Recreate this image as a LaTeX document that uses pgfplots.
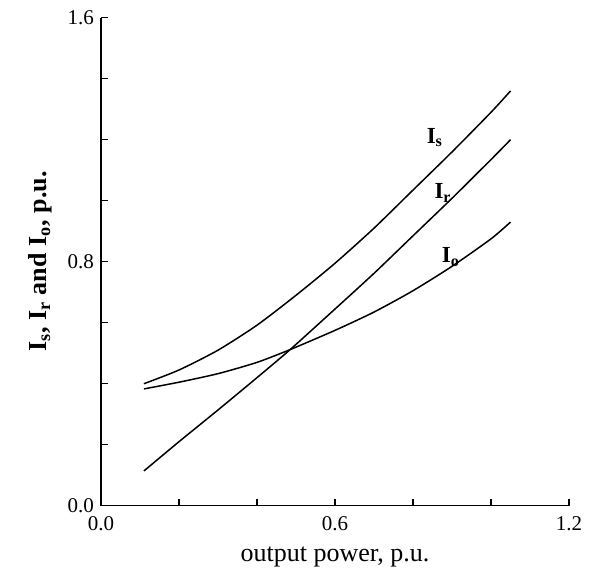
\documentclass[border=0pt]{standalone}
\usepackage{fontspec}
\setmainfont{Liberation Serif}
\usepackage{pgfplots}
\pgfplotsset{compat=1.18}

\begin{document}
\begin{tikzpicture}
\begin{axis}[
    scale only axis,
    width=234pt,
    height=244pt,
    xmin=0, xmax=1.2,
    ymin=0, ymax=1.6,
    axis lines=left,
    axis line style={-, line width=0.6pt},
    tick align=inside,
    major tick length=3.5pt,
    tick style={line width=0.6pt, black},
    xtick={0,0.2,0.4,0.6,0.8,1.0,1.2},
    xticklabels={0.0,,,0.6,,,1.2},
    ytick={0,0.2,0.4,0.6,0.8,1.0,1.2,1.4,1.6},
    yticklabels={0.0,,,,0.8,,,,1.6},
    ticklabel style={font=\fontsize{10.5}{12}\selectfont},
    xticklabel style={yshift=-2pt},
    xlabel={output power, p.u.},
    ylabel={\bfseries I\textsubscript{s}, I\textsubscript{r} and I\textsubscript{o}, p.u.},
    label style={font=\fontsize{13}{15}\selectfont},
    x label style={at={(axis description cs:0.5,-0.105)}, anchor=center},
    y label style={at={(axis description cs:-0.13,0.5)}, anchor=center},
    clip=false,
]

% I_s
\addplot[black, line width=0.75pt, smooth, tension=0.4] coordinates {
    (0.11,0.400) (0.2,0.445) (0.3,0.510) (0.4,0.592) (0.5,0.690)
    (0.6,0.795) (0.7,0.910) (0.8,1.035) (0.9,1.160) (1.0,1.290) (1.05,1.360)
};
% I_r
\addplot[black, line width=0.75pt, smooth, tension=0.4] coordinates {
    (0.11,0.114) (0.2,0.210) (0.3,0.314) (0.4,0.420) (0.485,0.512)
    (0.6,0.645) (0.7,0.762) (0.8,0.885) (0.9,1.008) (1.0,1.135) (1.05,1.200)
};
% I_o
\addplot[black, line width=0.75pt, smooth, tension=0.4] coordinates {
    (0.11,0.383) (0.2,0.405) (0.3,0.433) (0.4,0.470) (0.485,0.512)
    (0.6,0.575) (0.7,0.635) (0.8,0.705) (0.9,0.785) (1.0,0.875) (1.05,0.930)
};

\node[font=\fontsize{11.5}{13}\selectfont\bfseries] at (axis cs:0.856,1.207) {I\textsubscript{s}};
\node[font=\fontsize{11.5}{13}\selectfont\bfseries] at (axis cs:0.877,1.026) {I\textsubscript{r}};
\node[font=\fontsize{11.5}{13}\selectfont\bfseries] at (axis cs:0.897,0.816) {I\textsubscript{o}};

% page extent of the reference
\path (axis cs:-0.259,-0.257) rectangle (axis cs:1.305,1.658);
\end{axis}
\end{tikzpicture}
\end{document}
